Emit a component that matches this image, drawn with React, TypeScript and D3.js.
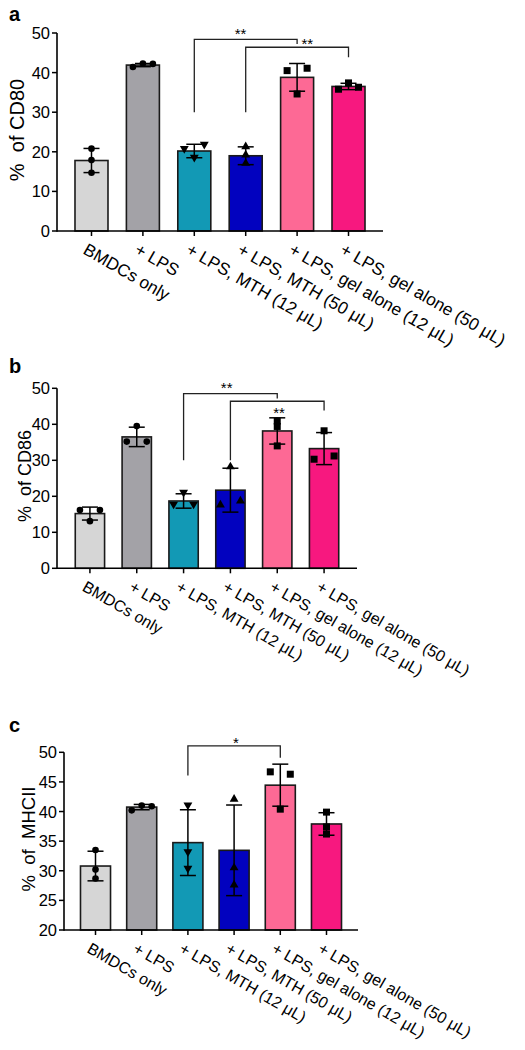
import React from 'react';
import * as d3 from 'd3';

const categories = [
  'BMDCs only',
  '+ LPS',
  '+ LPS, MTH (12 μL)',
  '+ LPS, MTH (50 μL)',
  '+ LPS, gel alone (12 μL)',
  '+ LPS, gel alone (50 μL)',
];
const barColors = ['#d6d6d6', '#a3a2a7', '#1299b5', '#0202bf', '#fd6995', '#f7187f'];
const markerShapes = ['circle', 'circle', 'triangleDown', 'triangleUp', 'square', 'square'];

// Panel a: CD80
const cd80Means = [17.8, 41.9, 20.2, 19.0, 38.8, 36.5];
const cd80Sd = [3.05, 0.4, 1.7, 2.25, 3.5, 0.8];
const cd80Points = [
  [20.8, 17.9, 14.7],
  [41.4, 42.3, 42.2],
  [20.8, 21.9, 18.6],
  [21.3, 19.2, 17.1],
  [40.5, 41.1, 34.6],
  [35.8, 37.4, 36.3],
];
const cd80Ticks = [0, 10, 20, 30, 40, 50];
const cd80Brackets = [
  { from: 2, to: 4, top: 48.4, leftEnd: 30, rightEnd: 47.2, label: '**', labelFrac: 0.45, labelVal: 50.6 },
  { from: 3, to: 5, top: 46.4, leftEnd: 30, rightEnd: 43.9, label: '**', labelFrac: 0.6, labelVal: 47.9 },
];

// Panel b: CD86
const cd86Means = [15.2, 36.5, 18.7, 21.7, 38.15, 33.25];
const cd86Sd = [1.8, 2.7, 2.0, 6.1, 3.65, 4.45];
const cd86Points = [
  [16.2, 16.2, 13.1],
  [39.5, 35.2, 35.2],
  [21.1, 17.8, 17.8],
  [28.2, 17.6, 18.7],
  [40.9, 39.4, 34.0],
  [38.2, 30.3, 31.2],
];
const cd86Ticks = [0, 10, 20, 30, 40, 50];
const cd86Brackets = [
  { from: 2, to: 4, top: 48.5, leftEnd: 30, rightEnd: 47.2, label: '**', labelFrac: 0.46, labelVal: 50.9 },
  { from: 3, to: 5, top: 46.4, leftEnd: 30, rightEnd: 43.8, label: '**', labelFrac: 0.52, labelVal: 44.0 },
];

// Panel c: MHCII
const mhciiMeans = [30.8, 40.75, 34.75, 33.45, 44.45, 37.9];
const mhciiSd = [2.5, 0.45, 5.55, 7.65, 3.55, 1.9];
const mhciiPoints = [
  [33.5, 30.2, 28.7],
  [40.2, 41.0, 40.9],
  [41.1, 33.2, 30.4],
  [42.1, 30.5, 27.6],
  [46.7, 46.3, 40.4],
  [39.9, 37.4, 36.2],
];
const mhciiTicks = [20, 25, 30, 35, 40, 45, 50];
const mhciiBrackets = [
  { from: 2, to: 4, top: 51.1, leftEnd: 46.1, rightEnd: 49.1, label: '*', labelFrac: 0.52, labelVal: 52.1 },
];

const FONT = 'Liberation Sans, Arial, Helvetica, sans-serif';

type Bracket = { from: number; to: number; top: number; leftEnd: number; rightEnd: number; label: string; labelFrac: number; labelVal: number };

type PanelProps = {
  letter: string;
  letterPos: [number, number];
  yLabel: string;
  yLabelPos: [number, number];
  yLabelSize: number;
  x0: number; x1: number; yTop: number; yBottom: number;
  pi: number; po: number;
  domain: [number, number];
  ticks: number[];
  means: number[];
  sd: number[];
  points: number[][];
  brackets: Bracket[];
  xLabelSize: number;
  xLabelOffset: [number, number];
};

function jitter(vals: number[], y: (v: number) => number, thresh = 5, spread = 10): number[] {
  const order = vals.map((_, i) => i).sort((a, b) => y(vals[a]) - y(vals[b]));
  const clusters: number[][] = [];
  order.forEach((i, k) => {
    if (k > 0 && Math.abs(y(vals[i]) - y(vals[order[k - 1]])) < thresh) {
      clusters[clusters.length - 1].push(i);
    } else clusters.push([i]);
  });
  const off = vals.map(() => 0);
  clusters.forEach((c) => {
    const s = [...c].sort((a, b) => a - b);
    if (s.length === 2) { off[s[0]] = -spread; off[s[1]] = spread; }
    if (s.length >= 3) { s.forEach((i, k) => { off[i] = (k - (s.length - 1) / 2) * spread; }); }
  });
  return off;
}

function Marker({ shape, x, y }: { shape: string; x: number; y: number }) {
  if (shape === 'circle') return <circle cx={x} cy={y} r={3.3} fill="#000" />;
  if (shape === 'square') return <rect x={x - 3.5} y={y - 3.5} width={7} height={7} fill="#000" />;
  const p = d3.symbol().type(d3.symbolTriangle).size(34)() as string;
  const rot = shape === 'triangleDown' ? 180 : 0;
  return <path d={p} transform={`translate(${x},${y}) rotate(${rot})`} fill="#000" />;
}

function Panel(props: PanelProps) {
  const { x0, x1, yTop, yBottom, pi, po, domain, ticks, means, sd, points, brackets } = props;
  const x = d3.scaleBand<string>().domain(categories).range([x0, x1]).paddingInner(pi).paddingOuter(po);
  const y = d3.scaleLinear().domain(domain).range([yBottom, yTop]);
  const bw = x.bandwidth();
  const cx = (i: number) => (x(categories[i]) as number) + bw / 2;
  const cap = 8;
  return (
    <g>
      <text x={props.letterPos[0]} y={props.letterPos[1]} fontSize={20} fontWeight="bold" fontFamily={FONT}>{props.letter}</text>
      <text
        transform={`translate(${props.yLabelPos[0]},${props.yLabelPos[1]}) rotate(-90)`}
        textAnchor="middle" dominantBaseline="central" fontSize={props.yLabelSize} fontFamily={FONT}
        style={{ whiteSpace: 'pre' }}
      >{props.yLabel}</text>
      {/* bars */}
      {categories.map((c, i) => (
        <rect key={c} x={x(c)} y={y(means[i])} width={bw} height={y(domain[0]) - y(means[i])}
          fill={barColors[i]} stroke="#1a1a1a" strokeWidth={1.6} />
      ))}
      {/* error bars */}
      {categories.map((c, i) => {
        const hi = y(means[i] + sd[i]);
        const lo = y(means[i] - sd[i]);
        return (
          <g key={c} stroke="#000" strokeWidth={1.5}>
            <line x1={cx(i)} x2={cx(i)} y1={hi} y2={lo} />
            <line x1={cx(i) - cap} x2={cx(i) + cap} y1={hi} y2={hi} />
            <line x1={cx(i) - cap} x2={cx(i) + cap} y1={lo} y2={lo} />
          </g>
        );
      })}
      {/* points */}
      {categories.map((c, i) => {
        const off = jitter(points[i], y);
        return points[i].map((v, k) => (
          <Marker key={c + k} shape={markerShapes[i]} x={cx(i) + off[k]} y={y(v)} />
        ));
      })}
      {/* axes */}
      <line x1={x0} x2={x0} y1={yTop} y2={yBottom + 0.75} stroke="#000" strokeWidth={1.6} />
      <line x1={x0} x2={x1} y1={yBottom} y2={yBottom} stroke="#000" strokeWidth={1.6} />
      {ticks.map((t) => (
        <g key={t}>
          <line x1={x0 - 5} x2={x0} y1={y(t)} y2={y(t)} stroke="#000" strokeWidth={1.5} />
          <text x={x0 - 7} y={y(t)} textAnchor="end" dominantBaseline="central" fontSize={16.5} fontFamily={FONT}>{t}</text>
        </g>
      ))}
      {categories.map((c, i) => (
        <g key={c}>
          <line x1={cx(i)} x2={cx(i)} y1={yBottom} y2={yBottom + 5} stroke="#000" strokeWidth={1.5} />
          <text
            transform={`translate(${cx(i) + props.xLabelOffset[0]},${yBottom + props.xLabelOffset[1]}) rotate(30)`}
            textAnchor="start" dominantBaseline="hanging" fontSize={props.xLabelSize} fontFamily={FONT}
          >{c}</text>
        </g>
      ))}
      {/* significance brackets */}
      {brackets.map((b, k) => {
        const xl = cx(b.from);
        const xr = cx(b.to);
        const yt = y(b.top);
        return (
          <g key={k}>
            <path d={`M${xl},${y(b.leftEnd)}V${yt}H${xr}V${y(b.rightEnd)}`} fill="none" stroke="#222" strokeWidth={1.3} />
            <text x={xl + (xr - xl) * b.labelFrac} y={y(b.labelVal) + 8} textAnchor="middle" fontSize={15} fontFamily={FONT}>{b.label}</text>
          </g>
        );
      })}
    </g>
  );
}

export default function App() {
  return (
    <svg width={525} height={1050} style={{ position: 'absolute', left: 0, top: 0, background: '#fff' }}>
      <rect x={0} y={0} width={525} height={1050} fill="#fff" />
      <Panel letter="a" letterPos={[9, 21]} yLabel="%  of CD80" yLabelPos={[17, 130]} yLabelSize={20}
        x0={57} x1={383} yTop={33} yBottom={231} pi={0.358} po={0.35} domain={[0, 50]} ticks={cd80Ticks}
        means={cd80Means} sd={cd80Sd} points={cd80Points} brackets={cd80Brackets}
        xLabelSize={17.3} xLabelOffset={[-3, 11]} />
      <Panel letter="b" letterPos={[9, 373]} yLabel="%  of CD86" yLabelPos={[25, 476]} yLabelSize={18}
        x0={57} x1={357} yTop={388.3} yBottom={568.3} pi={0.374} po={0.39} domain={[0, 50]} ticks={cd86Ticks}
        means={cd86Means} sd={cd86Sd} points={cd86Points} brackets={cd86Brackets}
        xLabelSize={16} xLabelOffset={[-3, 12]} />
      <Panel letter="c" letterPos={[9, 732]} yLabel="%  of  MHCII" yLabelPos={[28, 839]} yLabelSize={18.5}
        x0={64} x1={358} yTop={752.3} yBottom={930} pi={0.35} po={0.357} domain={[20, 50]} ticks={mhciiTicks}
        means={mhciiMeans} sd={mhciiSd} points={mhciiPoints} brackets={mhciiBrackets}
        xLabelSize={16} xLabelOffset={[-4, 12]} />
    </svg>
  );
}
